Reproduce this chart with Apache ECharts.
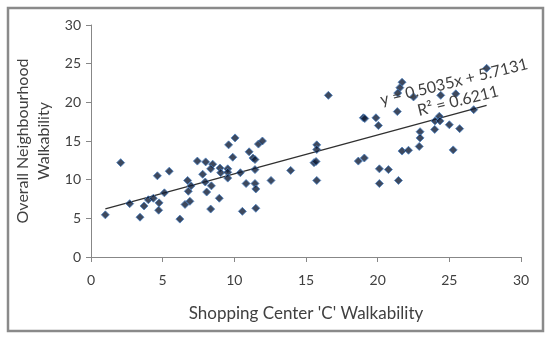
<!DOCTYPE html>
<html><head><meta charset="utf-8">
<script src="https://cdn.jsdelivr.net/npm/echarts@6/dist/echarts.min.js"></script>
<style>html,body{margin:0;padding:0;background:#fff}#c{width:550px;height:337px}</style>
</head><body><div id="c"></div>
<script>
const xValues = [1.0,2.07,2.7,3.42,3.7,4.0,4.35,4.75,4.72,4.63,5.12,5.46,6.2,6.56,6.9,6.74,6.98,6.79,7.42,8.0,8.49,8.35,7.79,7.97,8.4,8.07,8.95,8.35,9.0,9.05,9.54,9.54,9.54,9.6,10.05,9.89,10.42,10.82,10.56,11.03,11.3,11.44,11.44,11.44,11.5,11.5,11.68,11.96,12.56,13.93,15.75,15.75,15.56,15.7,15.75,16.56,18.65,19.07,19.0,19.1,19.88,20.05,20.12,20.75,20.12,21.45,21.37,21.7,21.55,21.4,22.5,24.4,25.45,27.6,24.3,24.0,24.35,25.0,25.72,23.98,22.96,22.96,22.9,21.7,22.15,25.27,26.7];
const yValues = [5.45,12.2,6.9,5.15,6.6,7.4,7.6,7.0,6.05,10.5,8.3,11.1,4.9,6.8,7.2,9.9,9.2,8.5,12.4,12.3,12.0,11.4,10.7,9.7,9.2,8.4,7.6,6.2,11.5,10.9,11.4,10.95,10.2,14.5,15.4,12.9,10.9,9.5,5.9,13.6,12.8,12.6,11.3,9.5,8.8,6.3,14.6,15.0,9.9,11.2,14.5,13.9,12.2,12.35,9.9,20.9,12.4,12.8,18.0,17.9,18.0,17.0,11.4,11.3,9.5,9.9,18.8,22.6,21.9,21.2,20.7,20.9,21.1,24.4,18.2,17.6,17.6,17.1,16.6,16.5,16.2,15.4,14.3,13.7,13.8,13.85,19.05];
const trendSlope = 0.5035;
const trendIntercept = 5.7131;
const rSquared = '0.6211';
const xTicks = [0,5,10,15,20,25,30];
const yTicks = [0,5,10,15,20,25,30];
const xTitle = "Shopping Center 'C' Walkability";
const yTitle = "Overall Neighbourhood\nWalkability";

const pts = xValues.map((x,i)=>[x,yValues[i]]);
const xMin = Math.min(...xValues), xMax = Math.max(...xValues);
const trend = [[xMin, trendSlope*xMin+trendIntercept],[xMax, trendSlope*xMax+trendIntercept]];
const FONT = 'Lato';
const chart = echarts.init(document.getElementById('c'));
const axisCommon = {
  min: 0, max: 30, interval: 5,
  axisLine: {show: true, lineStyle: {color: '#878787', width: 1}},
  axisTick: {show: true, length: 5, lineStyle: {color: '#878787'}},
  splitLine: {show: false},
  axisLabel: {color: '#404040', fontFamily: FONT, fontSize: 14},
  nameTextStyle: {color: '#404040', fontFamily: FONT, fontSize: 17, lineHeight: 21},
  nameLocation: 'middle'
};
chart.setOption({
  animation: false,
  grid: {left: 91, right: 29, top: 25, bottom: 80},
  xAxis: Object.assign({}, axisCommon, {type: 'value', name: xTitle, nameGap: 46,
    axisLabel: Object.assign({}, axisCommon.axisLabel, {margin: 16})}),
  yAxis: Object.assign({}, axisCommon, {type: 'value', name: yTitle, nameGap: 37,
    nameTextStyle: Object.assign({}, axisCommon.nameTextStyle, {fontSize: 16}),
    axisLabel: Object.assign({}, axisCommon.axisLabel, {margin: 10})}),
  series: [
    {type: 'scatter', data: pts, symbol: 'diamond', symbolSize: 8,
     itemStyle: {color: '#0e1b36', borderColor: '#4a7fc1', borderWidth: 1}, z: 3},
    {type: 'line', data: trend, symbol: 'none', silent: true,
     lineStyle: {color: '#303030', width: 1.3}, z: 2}
  ],
  graphic: [
    {type: 'rect', shape: {x: 8, y: 8, width: 535, height: 323},
     style: {fill: 'none', stroke: '#8a8a8a', lineWidth: 2.5}, silent: true},
    {type: 'text', x: 454, y: 82, rotation: 14*Math.PI/180, z: 10,
     style: {text: 'y = ' + trendSlope + 'x + ' + trendIntercept, fill: '#404040', font: '16px Lato', textAlign: 'center', textVerticalAlign: 'middle'}},
    {type: 'text', x: 458, y: 101, rotation: 14*Math.PI/180, z: 10,
     style: {text: 'R² = ' + rSquared, fill: '#404040', font: '16px Lato', textAlign: 'center', textVerticalAlign: 'middle'}}
  ]
});
</script></body></html>
